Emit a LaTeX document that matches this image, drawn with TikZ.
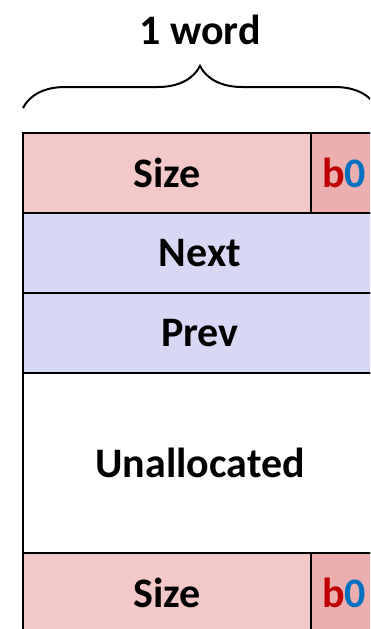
\documentclass[tikz,border=0pt]{standalone}
\usepackage{fontspec}
\setmainfont{Carlito}
\usepackage{tikz}
\usetikzlibrary{positioning, decorations.pathreplacing}
\definecolor{sizepink}{HTML}{F2C8C9}
\definecolor{flagpink}{HTML}{ECAFAF}
\definecolor{linkblue}{HTML}{D7D8F4}
\definecolor{bitred}{HTML}{C00000}
\definecolor{bitblue}{HTML}{0070C0}
\tikzset{
	cell/.style={draw, line width=2pt, inner sep=0pt, outer sep=0pt, minimum height=80pt,
		font=\bfseries\fontsize{42}{48}\selectfont},
	wide/.style={cell, minimum width=354pt},
	sizecell/.style={cell, fill=sizepink, minimum width=288pt},
	flagcell/.style={cell, fill=flagpink, minimum width=66pt},
}
\newcommand{\flagbits}{\textcolor{bitred}{b}\textcolor{bitblue}{0}}
\begin{document}
\begin{tikzpicture}[x=1pt, y=-1pt]
		
		\useasboundingbox (0,0) rectangle (370,629);
		\clip (0,0) rectangle (370,629);
		\node[font=\bfseries\fontsize{42}{48}\selectfont] (word) at (200,30) {1 word};
		\draw[line width=2pt, decorate, decoration={brace, amplitude=42pt}] (23,108) -- (377,108);
		\node[sizecell, anchor=north west] (size1) at (23,133) {Size};
		\node[flagcell, right=0pt of size1] (flag1) {\flagbits};
		\node[wide, fill=linkblue, below=0pt of size1.south west, anchor=north west] (next) {Next};
		\node[wide, fill=linkblue, below=0pt of next] (prev) {Prev};
		\node[wide, minimum height=180pt, below=0pt of prev] (unalloc) {Unallocated};
		\node[sizecell, below=0pt of unalloc.south west, anchor=north west] (size2) {Size};
		\node[flagcell, right=0pt of size2] (flag2) {\flagbits};
		
\end{tikzpicture}
\end{document}
